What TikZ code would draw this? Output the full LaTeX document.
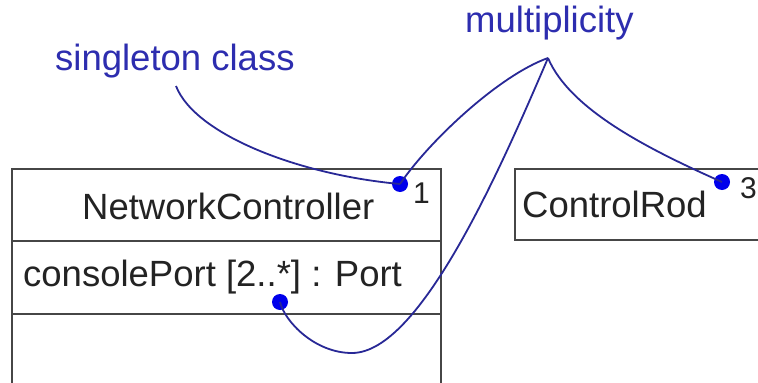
\documentclass[tikz,border=0pt]{standalone}
\usepackage{fontspec}
\setmainfont{Liberation Sans}
\definecolor{boxline}{RGB}{70,70,70}
\definecolor{boxtext}{RGB}{35,35,35}
\definecolor{notetext}{RGB}{45,45,175}
\definecolor{noteline}{RGB}{40,40,150}
\definecolor{dotblue}{RGB}{0,0,235}
\tikzset{
  classbox/.style={draw=boxline, line width=2.2pt},
  member/.style={inner sep=0pt, anchor=base west, text=boxtext, font=\fontsize{36.5}{40}\selectfont},
  mult/.style={inner sep=0pt, anchor=base west, text=boxtext, font=\fontsize{30}{34}\selectfont},
  note/.style={inner sep=0pt, anchor=base west, text=notetext, font=\fontsize{36.5}{40}\selectfont},
  pin/.style={circle, fill=dotblue, inner sep=0pt, minimum size=16pt},
  leader/.style={draw=noteline, line width=1.8pt}
}
\begin{document}
\begin{tikzpicture}[x=1pt, y=-1pt]
  \clip (0,0) rectangle (758,383);
  \fill[white] (0,0) rectangle (758,383);

  % class NetworkController with its three compartments
  \draw[classbox] (12,169) rectangle (441,395);
  \draw[classbox] (12,241) -- (441,241);
  \draw[classbox] (12,314) -- (441,314);
  \node[member] (nc) at (82,219) {NetworkController};
  \node[member] (attr) at (23,286) {consolePort [2..*] : Port};
  \node[mult] (one) at (413,203) {1};

  % class ControlRod
  \draw[classbox] (515,169) rectangle (790,240);
  \node[member] (cr) at (522,217) {ControlRod};
  \node[mult] (three) at (740,198) {3};

  % annotations
  \node[note] (single) at (55,70) {singleton class};
  \node[note] (multi) at (465,32) {multiplicity};
  \coordinate (singleEnd) at (176,86);
  \coordinate (multEnd) at (548,58);
  \coordinate (loopLow) at (352,353);

  % pins marking the annotated elements
  \node[pin] (pinNC) at (400,184) {};
  \node[pin] (pinAttr) at (280,302) {};
  \node[pin] (pinCR) at (722,182) {};

  % leader lines
  \draw[leader] (singleEnd) .. controls (195,135) and (300,175) .. (pinNC.center);
  \draw[leader] (multEnd) .. controls (500,75) and (430,140) .. (pinNC.center);
  \draw[leader] (multEnd) .. controls (570,110) and (650,150) .. (pinCR.center);
  \draw[leader] (multEnd) .. controls (500,170) and (420,353) .. (loopLow)
                .. controls (315,353) and (285,322) .. (pinAttr.center);
\end{tikzpicture}
\end{document}
